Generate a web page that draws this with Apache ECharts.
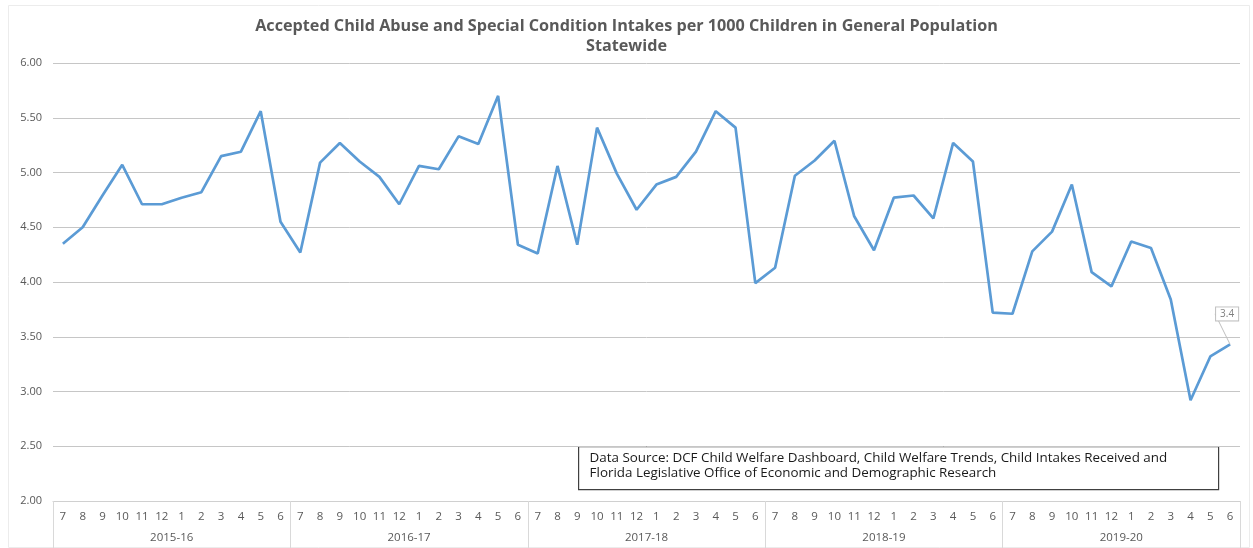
<!DOCTYPE html>
<html>
<head>
<meta charset="utf-8">
<script src="https://cdn.jsdelivr.net/npm/echarts@6/dist/echarts.min.js"></script>
<style>
  html, body { margin: 0; padding: 0; background: #ffffff; }
  #chart { width: 1253px; height: 548px; }
</style>
</head>
<body>
<div id="chart"></div>
<script>
// Fiscal-year months, July through June
const months = ['7', '8', '9', '10', '11', '12', '1', '2', '3', '4', '5', '6'];
const fiscalYears = ['2015-16', '2016-17', '2017-18', '2018-19', '2019-20'];

// Accepted intakes per 1000 children, one value per month
const fy2015 = [4.35, 4.50, 4.79, 5.07, 4.71, 4.71, 4.77, 4.82, 5.15, 5.19, 5.56, 4.55];
const fy2016 = [4.27, 5.09, 5.27, 5.10, 4.96, 4.71, 5.06, 5.03, 5.33, 5.26, 5.70, 4.34];
const fy2017 = [4.26, 5.06, 4.34, 5.41, 4.99, 4.66, 4.89, 4.96, 5.19, 5.56, 5.41, 3.99];
const fy2018 = [4.13, 4.97, 5.11, 5.29, 4.60, 4.29, 4.77, 4.79, 4.58, 5.27, 5.10, 3.72];
const fy2019 = [3.71, 4.28, 4.46, 4.89, 4.09, 3.96, 4.37, 4.31, 3.84, 2.92, 3.32, 3.43];

const yTicks = { min: 2, max: 6, step: 0.5 };

const monthLabels = [];
fiscalYears.forEach(() => months.forEach(m => monthLabels.push(m)));
const values = [].concat(fy2015, fy2016, fy2017, fy2018, fy2019);
const lastIndex = values.length - 1;

// Only the latest month carries a callout label
const seriesData = values.map((v, i) => {
  if (i !== lastIndex) return v;
  return {
    value: v,
    label: {
      show: true,
      position: 'top',
      distance: 4,
      formatter: p => Number(p.value).toFixed(1),
      color: '#7f7f7f',
      fontSize: 10,
      fontFamily: 'Open Sans',
      backgroundColor: '#ffffff',
      borderColor: '#bfbfbf',
      borderWidth: 1,
      padding: [2, 4, 1, 4]
    },
    labelLine: { show: true, lineStyle: { color: '#bfbfbf', width: 1 } }
  };
});

const gray = '#595959';
const chart = echarts.init(document.getElementById('chart'), null, { renderer: 'canvas' });

chart.setOption({
  animation: false,
  backgroundColor: '#ffffff',
  title: {
    text: 'Accepted Child Abuse and Special Condition Intakes per 1000 Children in General Population\nStatewide',
    left: 'center',
    top: 11,
    textStyle: {
      fontFamily: 'Open Sans',
      fontWeight: 'bold',
      fontSize: 16.2,
      color: gray,
      lineHeight: 20
    }
  },
  grid: { left: 53, right: 13, top: 63, bottom: 47 },
  xAxis: [
    {
      type: 'category',
      data: monthLabels,
      boundaryGap: true,
      axisLine: { show: true, lineStyle: { color: '#d0d0d0', width: 1 } },
      axisTick: { show: false },
      axisLabel: {
        interval: 0,
        margin: 10,
        color: gray,
        fontSize: 11.5,
        fontFamily: 'Open Sans'
      }
    },
    {
      type: 'category',
      data: fiscalYears,
      position: 'bottom',
      boundaryGap: true,
      axisLine: { show: false },
      axisTick: {
        show: true,
        length: 47,
        lineStyle: { color: '#d9d9d9', width: 1 }
      },
      axisLabel: {
        interval: 0,
        margin: 31,
        color: gray,
        fontSize: 11.5,
        fontFamily: 'Open Sans'
      }
    }
  ],
  yAxis: {
    type: 'value',
    min: yTicks.min,
    max: yTicks.max,
    interval: yTicks.step,
    axisLine: { show: false },
    axisTick: { show: false },
    axisLabel: {
      margin: 11,
      color: gray,
      fontSize: 11,
      fontFamily: 'Open Sans',
      formatter: v => v.toFixed(2)
    },
    splitLine: { lineStyle: { color: '#c6c6c6', width: 1 } }
  },
  series: [
    {
      type: 'line',
      xAxisIndex: 0,
      data: seriesData,
      showSymbol: true,
      symbol: 'circle',
      symbolSize: 0,
      lineStyle: { color: '#5b9bd5', width: 2.7 },
      itemStyle: { color: '#5b9bd5' },
      labelLayout: params => (params.dataIndex === lastIndex ? { dx: -3, dy: -20 } : {}),
      z: 3
    }
  ],
  graphic: [
    {
      type: 'rect',
      left: 6,
      top: 3,
      shape: { width: 1241, height: 542 },
      style: { fill: 'none', stroke: '#ececec', lineWidth: 1 },
      silent: true,
      z: 0
    },
    {
      type: 'group',
      left: 578,
      top: 446,
      z: 10,
      children: [
        {
          type: 'rect',
          shape: { x: 0, y: 0, width: 640, height: 43 },
          style: { fill: '#ffffff', stroke: '#404040', lineWidth: 1.2 }
        },
        {
          type: 'text',
          x: 11,
          y: 4,
          style: {
            text: 'Data Source: DCF Child Welfare Dashboard, Child Welfare Trends, Child Intakes Received and\nFlorida Legislative Office of Economic and Demographic Research',
            fill: '#1a1a1a',
            font: '13.4px "Open Sans"',
            lineHeight: 15
          }
        }
      ]
    }
  ]
});
</script>
</body>
</html>
